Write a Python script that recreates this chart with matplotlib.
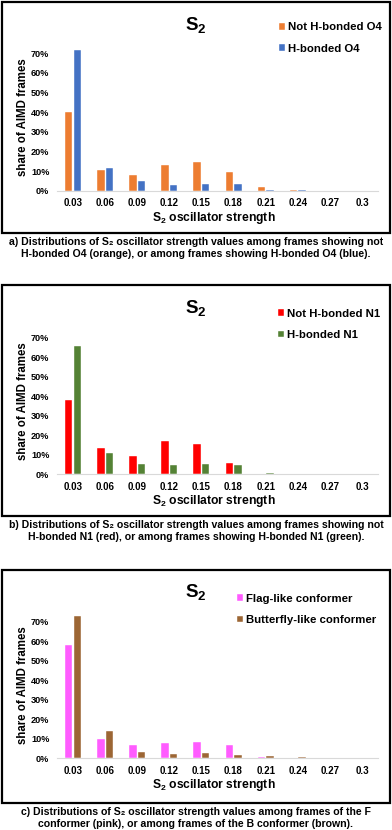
import numpy as np
import matplotlib
matplotlib.use('Agg')
import matplotlib.pyplot as plt
from matplotlib.patches import Rectangle
from matplotlib.ticker import PercentFormatter

plt.rcParams['font.family'] = ['Liberation Sans', 'DejaVu Sans']
plt.rcParams['font.weight'] = 'bold'
plt.rcParams['mathtext.fontset'] = 'custom'
plt.rcParams['mathtext.rm'] = 'Liberation Sans:bold'
plt.rcParams['mathtext.bf'] = 'Liberation Sans:bold'

# data (share of frames, %)
strength = ['0.03', '0.06', '0.09', '0.12', '0.15', '0.18', '0.21', '0.24', '0.27', '0.3']

not_hb_o4 = [40.0, 10.7, 8.3, 13.3, 14.5, 9.8, 2.2, 0.3, 0.1, 0.0]
hb_o4 = [71.7, 11.7, 4.9, 3.2, 3.5, 3.5, 0.5, 0.3, 0.1, 0.0]

not_hb_n1 = [38.3, 13.5, 9.6, 16.9, 15.5, 5.8, 0.0, 0.0, 0.0, 0.0]
hb_n1 = [66.0, 11.1, 5.5, 4.8, 5.3, 5.0, 0.9, 0.3, 0.1, 0.0]

flag_like = [58.1, 9.7, 6.8, 8.0, 8.2, 6.8, 0.7, 0.0, 0.0, 0.0]
butterfly_like = [72.7, 13.7, 3.4, 1.9, 2.9, 1.8, 1.2, 0.7, 0.2, 0.0]

W, H = 392, 830


def fx(x):
    return x / W


def fy(y):
    return 1 - y / H


def panel(fig, box, base, per10, s1, s2, labels, colors, leg_x, leg_y, caption):
    """draw one boxed panel, coordinates in figure pixels"""
    top = base - 7.5 * per10
    ax = fig.add_axes([fx(57), fy(base), fx(378) - fx(57), (base - top) / H])
    x = np.arange(len(strength))
    w = 0.23
    ax.bar(x - 0.135, s1, w, color=colors[0], label=labels[0],
           edgecolor='white', linewidth=0.3)
    ax.bar(x + 0.135, s2, w, color=colors[1], label=labels[1],
           edgecolor='white', linewidth=0.3)
    ax.set_xlim(-0.5, 9.5)
    ax.set_ylim(0, 75)
    ax.set_yticks(np.arange(0, 71, 10))
    ax.yaxis.set_major_formatter(PercentFormatter(decimals=0))
    ax.set_xticks(x)
    ax.set_xticklabels(strength)
    ax.tick_params(axis='x', length=0, labelsize=7, pad=5.4)
    ax.tick_params(axis='y', length=0, labelsize=6.6, pad=5.5)
    for s in ['top', 'right', 'left']:
        ax.spines[s].set_visible(False)
    ax.spines['bottom'].set_color('#D9D9D9')
    ax.spines['bottom'].set_linewidth(0.8)

    fig.text(fx(196), fy(base - 166), r'$\mathbf{S_2}$', fontsize=13.5,
             ha='center', va='center')
    fig.text(fx(214), fy(base + 26.7), r'$\mathbf{S_2}$ oscillator strength',
             fontsize=8.7, ha='center', va='center')
    fig.text(fx(23), fy(base - 73.5), 'share of AIMD frames', fontsize=8.3,
             rotation=90, ha='center', va='center')
    ax.legend(loc='center left', bbox_to_anchor=(fx(leg_x), fy(base - leg_y)),
              bbox_transform=fig.transFigure, frameon=False, fontsize=8.2,
              handlelength=0.53, handleheight=0.53, handletextpad=0.26,
              labelspacing=1.0, borderpad=0, borderaxespad=0)

    fig.patches.append(Rectangle((fx(box[0]), fy(box[3])),
                                 fx(box[2]) - fx(box[0]), (box[3] - box[1]) / H,
                                 transform=fig.transFigure, fill=False,
                                 edgecolor='black', linewidth=1.6))
    fig.text(fx(196), fy(box[3] + 15), caption, fontsize=7.6, ha='center',
             va='center', linespacing=1.2)
    return ax


fig = plt.figure(figsize=(W / 100, H / 100), dpi=100)

panel(fig, (2, 2, 390, 233), 191, 19.71, not_hb_o4, hb_o4,
      ['Not H-bonded O4', 'H-bonded O4'], ['#ED7D31', '#4472C4'], 279, 153,
      'a) Distributions of S\u2082 oscillator strength values among frames showing not\n'
      'H-bonded O4 (orange), or among frames showing H-bonded O4 (blue).')

panel(fig, (2, 285, 390, 516), 474.3, 19.5, not_hb_n1, hb_n1,
      ['Not H-bonded N1', 'H-bonded N1'], ['#FF0000', '#548235'], 278, 150,
      'b) Distributions of S\u2082 oscillator strength values among frames showing not\n'
      'H-bonded N1 (red), or among frames showing H-bonded N1 (green).')

panel(fig, (2, 570, 390, 803), 758.2, 19.5, flag_like, butterfly_like,
      ['Flag-like conformer', 'Butterfly-like conformer'], ['#FF5CFF', '#9C6634'], 237, 149,
      'c) Distributions of S\u2082 oscillator strength values among frames of the F\n'
      'conformer (pink), or among frames of the B conformer (brown).')

plt.savefig('out.png', dpi=100)
